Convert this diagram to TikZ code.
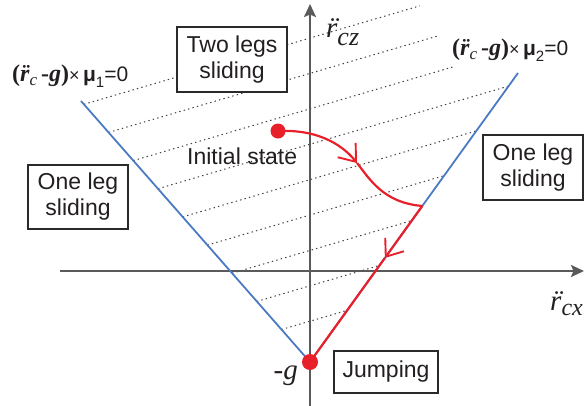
\documentclass[tikz,border=0pt]{standalone}
\usepackage{fontspec}
\setmainfont{Liberation Sans}
\newfontfamily\tnr{Liberation Serif}
\usetikzlibrary{arrows.meta,calc}
\definecolor{axisgray}{HTML}{5A5A5A}
\definecolor{lineblue}{HTML}{4A7BC2}
\definecolor{pathred}{HTML}{E8202A}
\definecolor{dotgray}{HTML}{404040}
\definecolor{boxdark}{HTML}{2A2A2A}
\definecolor{txt}{HTML}{231F20}
\newcommand\ddotr[2]{\ooalign{#1\cr\hidewidth\kern#2\char"A8\hidewidth\cr}}
\tikzset{
  axisline/.style={draw=axisgray, line width=2.2pt, -{Stealth[length=13pt,width=12pt,inset=2.5pt]}},
  hatch/.style={draw=dotgray, line width=1pt, dash pattern=on 1.4pt off 3.2pt},
  bound/.style={draw=lineblue, line width=1.8pt},
  redpath/.style={draw=pathred, line width=2.2pt},
  barb/.style={-{Straight Barb[length=15pt,width=23pt,line width=1.9pt]}},
  regionbox/.style={draw=boxdark, line width=1.5pt, fill=white, inner sep=0pt, align=center,
    text=txt, font=\fontsize{23}{26}\selectfont},
  reddot/.style={circle, fill=pathred, inner sep=0pt},
  plain/.style={inner sep=0pt, text=txt}
}
\begin{document}
\begin{tikzpicture}[x=1pt,y=-1pt]
\useasboundingbox (0,0) rectangle (585,405);
% key points
\coordinate (O) at (310,362);
\coordinate (Lt) at (81,101);
\coordinate (Rt) at (518,73);
\coordinate (C) at ($(O)!0.54!(Rt)$);
\coordinate (A2) at ($(O)!0.36!(Rt)$);
\coordinate (M) at (357,163);
\coordinate (ybot) at (310,412);
\coordinate (ytop) at (310,4);
\coordinate (xl) at (60,271);
\coordinate (xr) at (584,271);
% hatching
\foreach \xa/\ya/\xb/\yb in {83.9/104.3/420/5.8, 108.6/132.4/439/35.6,
  133.3/160.6/453/66.9, 158.0/188.7/508.6/86.1, 182.7/216.9/476.3/130.9,
  207.4/245.1/444.0/175.7, 232.1/273.2/411.8/220.6, 256.8/301.4/379.5/265.4,
  281.5/329.5/347.2/310.3}
  \draw[hatch] (\xa,\ya) -- (\xb,\yb);
% axes
\draw[axisline] (ybot) -- (ytop);
\draw[axisline] (xl) -- (xr);
% boxes
\node[regionbox, minimum width=110pt, minimum height=65pt] (two) at (232,59.5) {Two legs\\sliding};
\node[regionbox, minimum width=100pt, minimum height=64pt] (oneL) at (78,197) {One leg\\sliding};
\node[regionbox, minimum width=100pt, minimum height=65pt] (oneR) at (533,167.5) {One leg\\sliding};
\node[regionbox, minimum width=104pt, minimum height=42pt] (jumpbox) at (386,372) {Jumping};
% boundary lines
\draw[bound] (O) -- (Lt);
\draw[bound] (O) -- (Rt);
% dots
\node[reddot, minimum size=15pt] (init) at (278,131) {};
% red trajectory
\draw[redpath, barb] (init.center) .. controls (322,129) and (345,148) .. (M);
\draw[redpath] (M) .. controls (369,178) and (383,203) .. (C);
\draw[redpath, barb] (C) -- (A2);
\draw[redpath] (A2) -- (O);
\node[reddot, minimum size=16pt] (jump) at (O) {};
% labels
\node[plain, anchor=base west] (initlbl) at (187,164) {\fontsize{23}{23}\selectfont Initial state};
\node[plain, anchor=base west] (eq1) at (12,81) {\fontsize{24}{24}\selectfont{\tnr\bfseries(\ddotr{\itshape r}{0.12em}\raisebox{-4pt}{\fontsize{17}{17}\selectfont\mdseries\itshape c}\,-{\itshape g})}\fontsize{21}{21}\selectfont{\fontsize{18}{18}\selectfont×}\,\textbf{μ}\raisebox{-6pt}{\fontsize{15}{15}\selectfont 1}=0};
\node[plain, anchor=base west] (eq2) at (452,55) {\fontsize{24}{24}\selectfont{\tnr\bfseries(\ddotr{\itshape r}{0.12em}\raisebox{-4pt}{\fontsize{17}{17}\selectfont\mdseries\itshape c}\,-{\itshape g})}\fontsize{21}{21}\selectfont{\fontsize{18}{18}\selectfont×}\,\textbf{μ}\raisebox{-6pt}{\fontsize{15}{15}\selectfont 2}=0};
\node[plain, anchor=base west] (rz) at (326,37) {\tnr\itshape\fontsize{29}{29}\selectfont\ddotr{r}{0.1em}\raisebox{-8pt}{\fontsize{26}{26}\selectfont cz}};
\node[plain, anchor=base east] (rx) at (583,310) {\tnr\itshape\fontsize{29}{29}\selectfont\ddotr{r}{0.1em}\raisebox{-5pt}{\fontsize{24}{24}\selectfont cx}};
\node[plain, anchor=base east] (gl) at (298,379) {\tnr\fontsize{29}{29}\selectfont -\textit{g}};
\end{tikzpicture}
\end{document}
